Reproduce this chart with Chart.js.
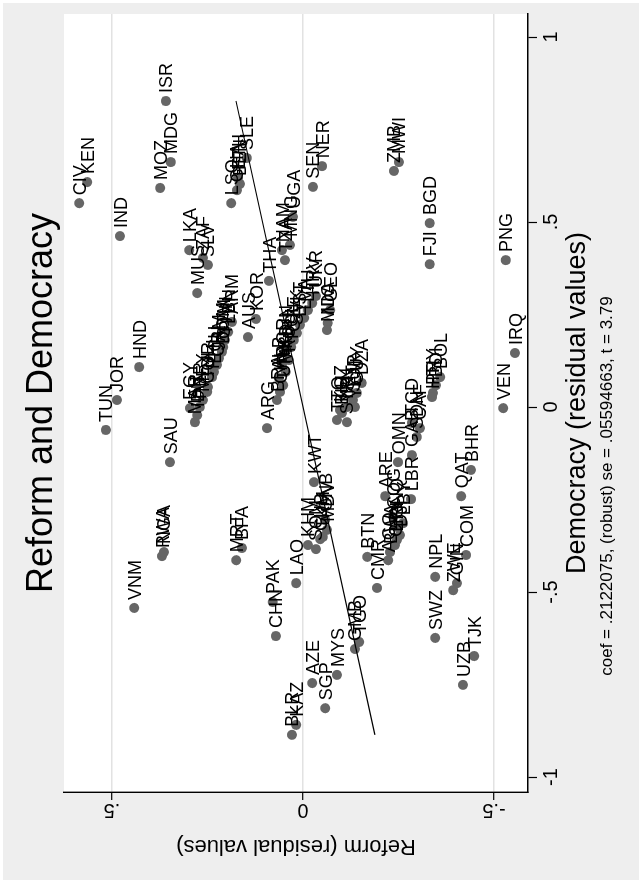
<!DOCTYPE html>
<html>
<head>
<meta charset="utf-8">
<script src="https://cdn.jsdelivr.net/npm/chart.js@4.4.1/dist/chart.umd.min.js"></script>
<style>
  html, body { margin: 0; padding: 0; background: #fff; width: 642px; height: 884px; overflow: hidden; }
  /* the chart is laid out landscape and turned a quarter turn counter-clockwise */
  #wrap { position: absolute; left: 0; top: 0; width: 884px; height: 642px;
          transform-origin: 0 0; transform: translate(0px, 884px) rotate(-90deg); }
  canvas { display: block; }
</style>
</head>
<body>
<div id="wrap"><canvas id="c" width="884" height="642"></canvas></div>
<script>
// Added-variable plot: Reform vs Democracy (both as residuals)
const codes = [
  'CIV','KEN','IND','MOZ','MDG','ISR','LSO','GHA','BEN','ETH','SLE','LKA','ZAF','SLV','MUS',
  'TUN','JOR','HND','SAU','VNM','RWA','NGA','MRT','BFA','CHN','PAK','LAO','KAZ','BLR','AZE',
  'SGP','MYS','GMB','TGO','SWZ','NPL','GIN','ZWE','COM','QAT','BHR','UZB','TJK','VEN','IRQ',
  'PNG','FJI','BGD','ZMB','MWI','SEN','NER','THA','KOR','AUS','ARG','KWT','KHM','BTN','CMR',
  'ARE','LBR','OMN',
  'EGY','MAR','IDN','PER','MEX','COL','TUR','PHL','ECU','CRI','JAM','DOM','GTM','PAN','LBN','ARM',
  'BRA','CHL','URY','ALB','MKD','BGR','ROU','HUN','POL','CZE','SVK','EST','LVA','LTU','HRV','UKR',
  'NIC','MDA','GEO',
  'DZA','GUY','SUR','YEM','IRN','KGZ','TTO','SYR','BIH',
  'BOL','PRY','HTI','BDI',
  'CAF','TCD','SDN','GAB',
  'COG','GNQ','DJI','ERI','CPV','BWA','AGO','LBY',
  'GNB','MDV','TKM','CUB','SOM',
  'UGA','MNG','NAM','TZA'
];
const democracy = [
  0.551, 0.608, 0.462, 0.592, 0.662, 0.827, 0.551, 0.586, 0.603, 0.619, 0.673, 0.424, 0.403, 0.384, 0.308,
  -0.062, 0.019, 0.108, -0.149, -0.543, -0.403, -0.392, -0.414, -0.381, -0.619, -0.527, -0.476, -0.859, -0.886, -0.746,
  -0.814, -0.724, -0.654, -0.635, -0.624, -0.459, -0.476, -0.495, -0.400, -0.241, -0.170, -0.751, -0.673, -0.003, 0.146,
  0.397, 0.386, 0.497, 0.638, 0.662, 0.595, 0.651, 0.341, 0.238, 0.189, -0.057, -0.203, -0.373, -0.405, -0.489,
  -0.241, -0.249, -0.149,
  -0.003, -0.041, -0.022, 0.000, 0.019, 0.041, 0.054, 0.081, 0.095, 0.114, 0.132, 0.149, 0.162, 0.181, 0.203, 0.230,
  0.019, 0.041, 0.059, 0.078, 0.095, 0.114, 0.127, 0.149, 0.162, 0.181, 0.200, 0.222, 0.241, 0.262, 0.281, 0.300,
  0.227, 0.208, 0.262,
  0.065, 0.038, 0.019, 0.000, 0.000, -0.008, -0.035, -0.041, -0.016,
  0.081, 0.038, 0.027, 0.059,
  -0.057, -0.043, -0.081, -0.130,
  -0.297, -0.324, -0.346, -0.359, -0.373, -0.392, -0.414, -0.314,
  -0.305, -0.332, -0.351, -0.357, -0.384,
  0.514, 0.438, 0.424, 0.397
];
const reform = [
  0.586, 0.565, 0.479, 0.374, 0.346, 0.359, 0.188, 0.173, 0.165, 0.170, 0.147, 0.298, 0.262, 0.249, 0.277,
  0.516, 0.487, 0.429, 0.348, 0.442, 0.369, 0.364, 0.175, 0.160, 0.071, 0.079, 0.018, 0.018, 0.029, -0.024,
  -0.058, -0.089, -0.136, -0.147, -0.346, -0.346, -0.403, -0.393, -0.427, -0.414, -0.440, -0.419, -0.448, -0.524, -0.555,
  -0.531, -0.332, -0.332, -0.238, -0.251, -0.026, -0.050, 0.089, 0.123, 0.144, 0.094, -0.029, -0.013, -0.168, -0.194,
  -0.215, -0.283, -0.249,
  0.296, 0.283, 0.277, 0.270, 0.262, 0.251, 0.249, 0.238, 0.233, 0.225, 0.220, 0.212, 0.209, 0.204, 0.196, 0.186,
  0.068, 0.060, 0.052, 0.063, 0.045, 0.055, 0.037, 0.047, 0.031, 0.024, 0.016, 0.008, -0.003, -0.013, -0.024, -0.034,
  -0.065, -0.063, -0.071,
  -0.154, -0.141, -0.131, -0.136, -0.115, -0.097, -0.089, -0.115, -0.102,
  -0.359, -0.340, -0.338, -0.348,
  -0.306, -0.285, -0.298, -0.285,
  -0.236, -0.246, -0.254, -0.246, -0.241, -0.228, -0.223, -0.262,
  -0.058, -0.063, -0.052, -0.045, -0.034,
  0.026, 0.034, 0.055, 0.047
];
const democracyTicks = [-1, -0.5, 0, 0.5, 1];
const reformTicks = [-0.5, 0, 0.5];
const coef = 0.2122075;

const titleText = 'Reform and Democracy';
const xTitle = 'Democracy (residual values)';
const yTitle = 'Reform (residual values)';
const noteText = 'coef = .2122075, (robust) se = .05594663, t = 3.79';

const FONT = '"Liberation Sans", Arial, Helvetica, sans-serif';
const GRAPH_BG = '#eeeeee';

function fmtTick(v) {
  if (v === 0) return '0';
  return String(v).replace(/^(-?)0\./, '$1.');
}

const points = codes.map((c, i) => ({ x: democracy[i], y: reform[i] }));
const dMin = Math.min(...democracy), dMax = Math.max(...democracy);
const fitLine = [{ x: dMin, y: coef * dMin }, { x: dMax, y: coef * dMax }];

const decor = {
  id: 'decor',
  beforeDraw(chart) {
    const { ctx, chartArea: a, width, height } = chart;
    ctx.save();
    ctx.fillStyle = '#ffffff';
    ctx.fillRect(0, 0, width, height);
    ctx.fillStyle = GRAPH_BG;
    ctx.fillRect(4, 3, width - 7, height - 6);
    ctx.fillStyle = '#ffffff';
    ctx.fillRect(a.left, a.top, a.right - a.left, a.bottom - a.top);
    ctx.restore();
  },
  afterDatasetsDraw(chart) {
    const { ctx } = chart;
    const meta = chart.getDatasetMeta(1);
    ctx.save();
    ctx.fillStyle = '#000';
    ctx.font = '18px ' + FONT;
    ctx.textAlign = 'left';
    ctx.textBaseline = 'alphabetic';
    meta.data.forEach((pt, i) => {
      ctx.fillText(codes[i], pt.x + 8, pt.y + 6.5);
    });
    ctx.restore();
  },
  afterDraw(chart) {
    const { ctx, chartArea: a, scales } = chart;
    const xs = scales.x, ys = scales.y;
    ctx.save();
    ctx.fillStyle = '#000';

    // Democracy tick labels (below the plot)
    ctx.font = '20px ' + FONT;
    ctx.textAlign = 'center';
    ctx.textBaseline = 'alphabetic';
    democracyTicks.forEach(v => {
      ctx.fillText(fmtTick(v), xs.getPixelForValue(v), a.bottom + 29);
    });

    // Reform tick labels, standing upright along the axis
    reformTicks.forEach(v => {
      ctx.save();
      ctx.translate(a.left - 12, ys.getPixelForValue(v));
      ctx.rotate(-Math.PI / 2);
      ctx.textAlign = 'center';
      ctx.fillText(fmtTick(v), 0, 0);
      ctx.restore();
    });

    // axis titles
    ctx.font = '27px ' + FONT;
    ctx.textAlign = 'center';
    ctx.fillText(xTitle, (a.left + a.right) / 2, a.bottom + 57);
    ctx.font = '22px ' + FONT;
    ctx.save();
    ctx.translate(44, (a.top + a.bottom) / 2);
    ctx.rotate(-Math.PI / 2);
    ctx.fillText(yTitle, 0, 0);
    ctx.restore();

    // note
    ctx.font = '17px ' + FONT;
    ctx.fillText(noteText, 398, a.bottom + 84);

    // title
    ctx.font = '36px ' + FONT;
    ctx.fillText(titleText, (a.left + a.right) / 2, 52);
    ctx.restore();
  }
};

new Chart(document.getElementById('c'), {
  type: 'scatter',
  data: {
    datasets: [
      { data: fitLine, showLine: true, borderColor: '#000', borderWidth: 1.2,
        pointRadius: 0, fill: false, order: 0 },
      { data: points, backgroundColor: '#666666', borderWidth: 0,
        pointRadius: 5, pointHoverRadius: 5, order: 1 }
    ]
  },
  options: {
    responsive: false,
    animation: false,
    devicePixelRatio: 1,
    events: [],
    layout: { padding: { left: 0, top: 64, right: 14, bottom: 0 } },
    plugins: { legend: { display: false }, tooltip: { enabled: false } },
    scales: {
      x: {
        type: 'linear', position: 'bottom', min: -1.0405, max: 1.0622,
        afterBuildTicks(s) { s.ticks = democracyTicks.map(v => ({ value: v })); },
        afterFit(s) { s.height = 114; },
        grid: { display: true, drawOnChartArea: false, drawTicks: true, tickLength: 9,
                tickColor: '#000', tickWidth: 1.2 },
        border: { display: true, color: '#000', width: 1.4 },
        ticks: { display: false }
      },
      y: {
        type: 'linear', position: 'left', min: -0.589, max: 0.6257,
        afterBuildTicks(s) { s.ticks = reformTicks.map(v => ({ value: v })); },
        afterFit(s) { s.width = 92; },
        grid: { display: true, drawOnChartArea: true, drawTicks: true, tickLength: 8,
                color: '#e2e2e2', lineWidth: 1.4, tickColor: '#000', tickWidth: 1.2 },
        border: { display: true, color: '#000', width: 1.4 },
        ticks: { display: false }
      }
    }
  },
  plugins: [decor]
});
</script>
</body>
</html>
